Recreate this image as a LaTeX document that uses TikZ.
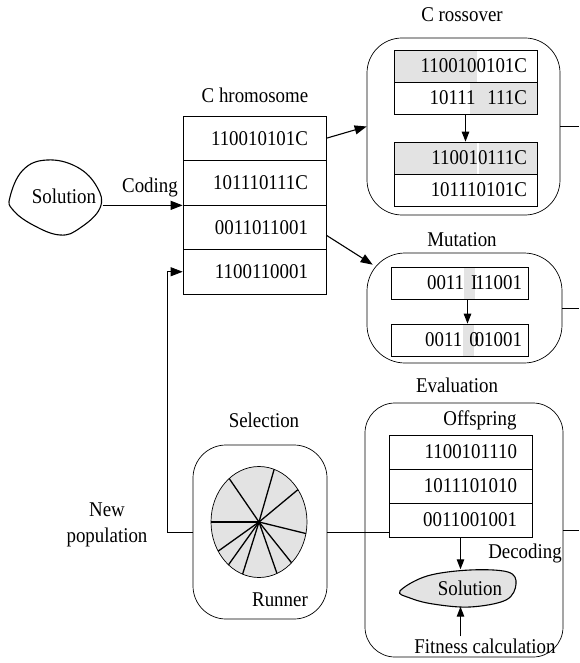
\documentclass[tikz,border=0pt]{standalone}
\usepackage{fontspec}
\setmainfont{Liberation Serif}[FakeStretch=0.9]
\usetikzlibrary{arrows.meta,calc}
\definecolor{shadeg}{HTML}{E3E3E3}
\begin{document}
\begin{tikzpicture}[x=1pt,y=-1pt,
  font=\fontsize{21}{26}\selectfont,
  lbl/.style={inner sep=0pt},
  rbox/.style={draw, line width=0.7pt, inner sep=0pt},
  cell/.style={draw, line width=0.7pt, inner ysep=0pt, align=right, minimum width=143pt},
  chromc/.style={cell, inner xsep=18pt, text width=107pt, minimum height=44.5pt},
  crossc/.style={cell, inner xsep=10pt, text width=123pt, minimum height=32pt},
  mutc/.style={cell, minimum width=137pt, inner xsep=6pt, text width=125pt, minimum height=32pt},
  offc/.style={cell, inner xsep=15pt, text width=113pt, minimum height=34pt},
  arr/.style={-{Triangle[length=12pt,width=9pt]}, line width=1.1pt},
  sarr/.style={-{Triangle[length=10pt,width=7.5pt]}, line width=1.1pt},
  thin/.style={line width=0.7pt}]
\useasboundingbox (0,0) rectangle (579,663);
\coordinate (RE) at (579,0);

% ---------- left solution blob ----------
\draw[line width=1.1pt] plot[smooth cycle, tension=0.7] coordinates
  {(10,197) (23,170) (47,160) (77,167) (97,187) (100,208) (80,228) (60,235) (33,225) (13,210)};
\node[minimum width=95pt, minimum height=75pt, inner sep=0pt] (solB) at (55,197.5) {};
\node[lbl] (solT) at (64,196) {Solution};
\node[lbl] (coding) at (150,187) {Coding};

% ---------- chromosome table ----------
\node[lbl] (tchrom) at (255,95) {C hromosome};
\node[chromc] (c1) at (254.5,138.25) {110010101C};
\node[chromc] (c2) at (254.5,182.75) {101110111C};
\node[chromc] (c3) at (254.5,227.25) {0011011001};
\node[chromc] (c4) at (254.5,271.75) {1100110001};

% ---------- crossover ----------
\node[lbl] (tcross) at (462,15) {C rossover};
\node[rbox, rounded corners=35pt, minimum width=193pt, minimum height=177pt] (cross) at (463.5,126.5) {};
\fill[shadeg] (394,50) rectangle (477,82);
\fill[shadeg] (470,82) rectangle (537,114);
\fill[shadeg] (394,142) rectangle (476.5,174);
\fill[shadeg] (478.5,142) rectangle (537,174);
\node[crossc] (x1) at (465.5,66) {1100100101C};
\node[crossc] (x2) at (465.5,98) {10111\hspace{12pt}111C};
\node[crossc] (x3) at (465.5,158) {110010111C};
\node[crossc] (x4) at (465.5,190) {101110101C};
\draw[sarr] (x2.south) -- (x3.north);

% ---------- mutation ----------
\node[lbl] (tmut) at (462,240) {Mutation};
\node[rbox, rounded corners=38pt, minimum width=195pt, minimum height=110pt] (mut) at (464.5,308) {};
\fill[shadeg] (464,267) rectangle (475,299);
\fill[shadeg] (463,324) rectangle (474,356);
\node[mutc] (m1) at (459.5,283) {0011 I\kern-2pt11001};
\node[mutc] (m2) at (459.5,340) {0011 0\kern-4pt01001};
\draw[sarr] ([xshift=8pt]m1.south) -- ([xshift=8pt]m2.north);

% ---------- evaluation ----------
\node[lbl] (teval) at (457,385) {Evaluation};
\node[rbox, rounded corners=30pt, minimum width=198pt, minimum height=254pt] (eval) at (464,530) {};
\node[lbl] (toff) at (480,420) {Offspring};
\node[offc] (o1) at (460.5,452) {1100101110};
\node[offc] (o2) at (460.5,486) {1011101010};
\node[offc] (o3) at (460.5,520) {0011001001};
\fill[shadeg, draw=black, line width=1.1pt] plot[smooth cycle, tension=0.6] coordinates
  {(400,591) (427,576) (470,570) (508,572) (516,584) (506,600) (470,607) (433,604) (410,598)};
\node[lbl, minimum height=37pt] (esol) at (470,588) {Solution};
\node[lbl] (dec) at (525,553) {Decoding};
\node[lbl] (fit) at (485,646) {Fitness calculation};
\draw[sarr] (o3.south) -- (o3.south |- esol.north);
\draw[sarr] (fit.north -| o3.south) ++(0,-2) -- (o3.south |- esol.south);

% ---------- selection ----------
\node[lbl] (tsel) at (264,420) {Selection};
\node[rbox, rounded corners=33pt, minimum width=134pt, minimum height=174pt] (sel) at (260,532) {};
\coordinate (pc) at (259,522);
\draw[fill=shadeg, thin] (pc) ellipse [x radius=48pt, y radius=55.5pt];
\foreach \a in {128.4,71.6,35.7,-12,180,211.7,230.5,250,292,312.7}
  \draw[line width=1.3pt] (pc) -- ($(pc)+(\a:48pt and 55.5pt)$);
\node[lbl] (run) at (280,600) {Runner};

% ---------- new population / loop ----------
\node[lbl, align=center] (newpop) at (107,525) {New\\population};
\coordinate (ret) at (167,532);
\draw[arr, thin] (sel.west) -- (ret) |- (c4.west);
\draw[thin] (sel.east) -- (sel.east -| o3.west);

% ---------- connectors ----------
\draw[arr] (solB.east |- c2.south west) -- (c2.south west);
\draw[arr] (c1.east) -- (cross.west);
\draw[arr] ([yshift=-8pt]c3.east) -- ($(mut.north west)+(6,12)$);
\draw[thin] (cross.east) -- (cross.east -| RE);
\draw[thin] (mut.east) -- (mut.east -| RE);
\draw[thin] (eval.east) -- (eval.east -| RE);
\end{tikzpicture}
\end{document}
